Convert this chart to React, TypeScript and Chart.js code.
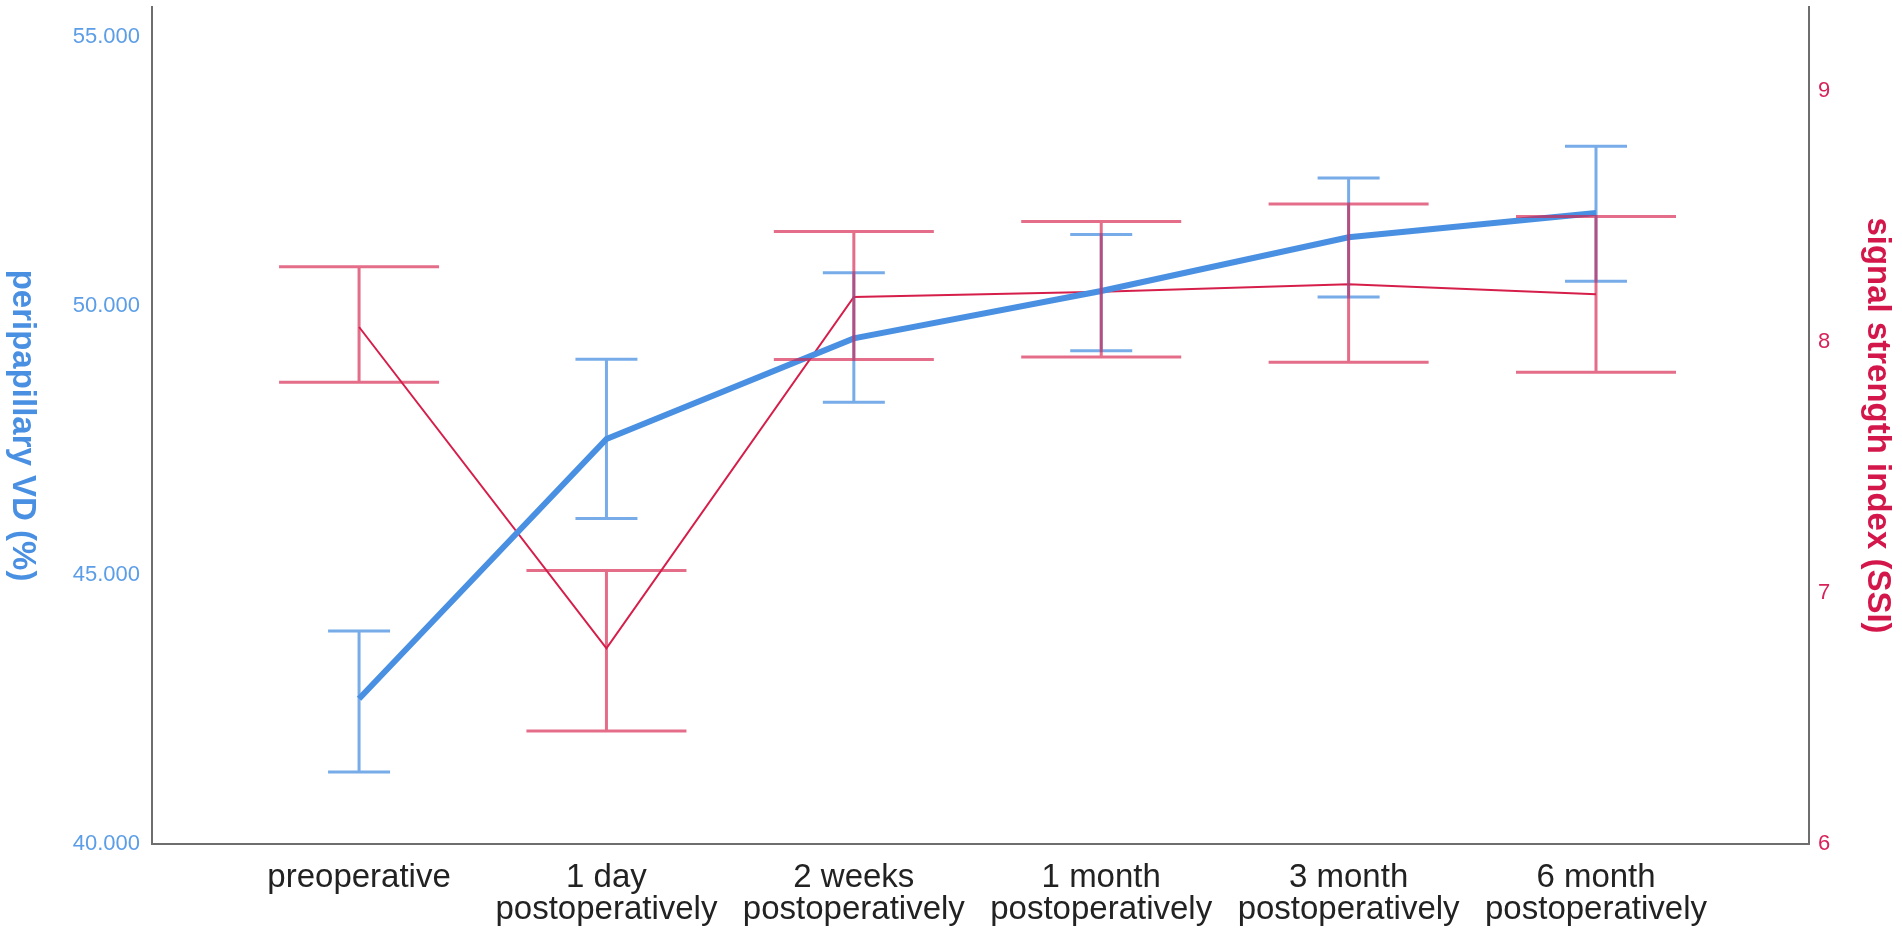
import { useEffect, useRef } from "react";
import { Chart, ChartConfiguration, registerables } from "chart.js";

Chart.register(...registerables);

const categories: string[][] = [
  ["preoperative"],
  ["1 day", "postoperatively"],
  ["2 weeks", "postoperatively"],
  ["1 month", "postoperatively"],
  ["3 month", "postoperatively"],
  ["6 month", "postoperatively"],
];

// peripapillary VD (%) - mean and error bar ends
const vdMean = [42.7, 47.53, 49.4, 50.28, 51.28, 51.73];
const vdLow = [41.34, 46.05, 48.21, 49.17, 50.17, 50.46];
const vdHigh = [43.96, 49.01, 50.62, 51.33, 52.38, 52.97];

// signal strength index (SSI) - mean and error bar ends
const ssiMean = [8.06, 6.78, 8.18, 8.2, 8.23, 8.19];
const ssiLow = [7.84, 6.45, 7.93, 7.94, 7.92, 7.88];
const ssiHigh = [8.3, 7.09, 8.44, 8.48, 8.55, 8.5];

const vdTicks = [40, 45, 50, 55];
const ssiTicks = [6, 7, 8, 9];

const BLUE = "#4a90e2";
const RED = "#d61e4a";
const FONT = "'Liberation Sans', Arial, sans-serif";

const errorBars = {
  id: "errorBars",
  afterDatasetsDraw(chart: any) {
    const { ctx, scales } = chart;
    const draw = (low: number[], high: number[], axis: string, half: number, color: string) => {
      const ys = scales[axis];
      ctx.save();
      ctx.strokeStyle = color;
      ctx.lineWidth = 3;
      low.forEach((lo, i) => {
        const px = scales.x.getPixelForValue(i);
        const top = ys.getPixelForValue(high[i]);
        const bot = ys.getPixelForValue(lo);
        ctx.beginPath();
        ctx.moveTo(px, top);
        ctx.lineTo(px, bot);
        ctx.moveTo(px - half, top);
        ctx.lineTo(px + half, top);
        ctx.moveTo(px - half, bot);
        ctx.lineTo(px + half, bot);
        ctx.stroke();
      });
      ctx.restore();
    };
    draw(vdLow, vdHigh, "yL", 31, "rgba(74,144,226,0.75)");
    draw(ssiLow, ssiHigh, "yR", 80, "rgba(214,30,74,0.65)");
  },
};

const axisTitles = {
  id: "axisTitles",
  afterDraw(chart: any) {
    const { ctx, chartArea } = chart;
    const mid = (chartArea.top + chartArea.bottom) / 2;
    const put = (text: string, x: number, color: string) => {
      ctx.save();
      ctx.translate(x, mid);
      ctx.rotate(Math.PI / 2);
      ctx.font = `bold 33px ${FONT}`;
      ctx.fillStyle = color;
      ctx.textAlign = "center";
      ctx.textBaseline = "middle";
      ctx.fillText(text, 0, 0);
      ctx.restore();
    };
    put("peripapillary VD (%)", 22, BLUE);
    put("signal strength index (SSI)", 1877, "#d4174a");
  },
};

// keep the plot edges where the reference has them
const noEdgePadding = (scale: any) => {
  scale.paddingTop = 0;
  scale.paddingBottom = 0;
};

export default function App() {
  const canvasRef = useRef<HTMLCanvasElement>(null);
  const chartRef = useRef<Chart | null>(null);

  useEffect(() => {
    if (!canvasRef.current) return;
    if (chartRef.current) chartRef.current.destroy();

    const ctx = canvasRef.current.getContext("2d");
    if (!ctx) return;

    const config: ChartConfiguration<"line"> = {
      type: "line",
      data: {
        datasets: [
          {
            label: "peripapillary VD (%)",
            data: vdMean.map((v, i) => ({ x: i, y: v })),
            yAxisID: "yL",
            borderColor: BLUE,
            borderWidth: 6,
            pointRadius: 0,
            tension: 0,
          },
          {
            label: "signal strength index (SSI)",
            data: ssiMean.map((v, i) => ({ x: i, y: v })),
            yAxisID: "yR",
            borderColor: RED,
            borderWidth: 2,
            pointRadius: 0,
            tension: 0,
          },
        ],
      },
      options: {
        responsive: false,
        animation: false,
        devicePixelRatio: 1,
        layout: { padding: { top: 7, left: 0, right: 0, bottom: 0 } },
        plugins: {
          legend: { display: false },
          tooltip: { enabled: false },
        },
        scales: {
          x: {
            type: "linear",
            min: -0.837,
            max: 5.861,
            afterBuildTicks: (scale: any) => {
              scale.ticks = categories.map((_, i) => ({ value: i }));
            },
            afterFit: (scale: any) => {
              scale.height = 93;
              scale.paddingLeft = 0;
              scale.paddingRight = 0;
            },
            grid: { color: "transparent", drawTicks: false },
            border: { display: true, color: "#6e6e6e", width: 2 },
            ticks: {
              autoSkip: false,
              maxRotation: 0,
              padding: 18,
              color: "#222",
              font: { family: FONT, size: 33, lineHeight: 0.96 },
              callback: (v: any) => categories[v as number] ?? "",
            },
          },
          yL: {
            type: "linear",
            position: "left",
            min: 40,
            max: 55.56,
            afterBuildTicks: (scale: any) => {
              scale.ticks = vdTicks.map((v) => ({ value: v }));
            },
            afterFit: (scale: any) => {
              scale.width = 152;
              noEdgePadding(scale);
            },
            grid: { color: "transparent", drawTicks: false },
            border: { display: true, color: "#6e6e6e", width: 2 },
            ticks: {
              padding: 12,
              color: "#5b9de6",
              font: { family: FONT, size: 22 },
              callback: (v: any) => Number(v).toFixed(3),
            },
          },
          yR: {
            type: "linear",
            position: "right",
            min: 6,
            max: 9.335,
            afterBuildTicks: (scale: any) => {
              scale.ticks = ssiTicks.map((v) => ({ value: v }));
            },
            afterFit: (scale: any) => {
              scale.width = 93;
              noEdgePadding(scale);
            },
            grid: { color: "transparent", drawTicks: false },
            border: { display: true, color: "#6e6e6e", width: 2 },
            ticks: {
              padding: 9,
              color: "#d6245a",
              font: { family: FONT, size: 22 },
              callback: (v: any) => String(v),
            },
          },
        },
      },
      plugins: [errorBars, axisTitles],
    };

    chartRef.current = new Chart(ctx, config);

    return () => {
      if (chartRef.current) {
        chartRef.current.destroy();
        chartRef.current = null;
      }
    };
  }, []);

  return (
    <div style={{ position: "fixed", left: 0, top: 0, width: 1902, height: 937, background: "#fff" }}>
      <canvas ref={canvasRef} width={1902} height={937} />
    </div>
  );
}
